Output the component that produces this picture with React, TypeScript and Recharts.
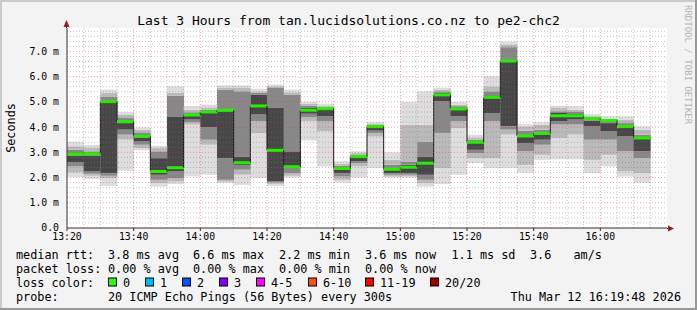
import {
  ComposedChart,
  Bar,
  XAxis,
  YAxis,
  CartesianGrid,
  ReferenceLine,
} from "recharts";

// 5 minute steps, 13:20 .. 16:15 (last slot is still empty)
const slots = [
  "13:20", "13:25", "13:30", "13:35", "13:40", "13:45", "13:50", "13:55",
  "14:00", "14:05", "14:10", "14:15", "14:20", "14:25", "14:30", "14:35",
  "14:40", "14:45", "14:50", "14:55", "15:00", "15:05", "15:10", "15:15",
  "15:20", "15:25", "15:30", "15:35", "15:40", "15:45", "15:50", "15:55",
  "16:00", "16:05", "16:10", "16:15",
];
const timeTicks = ["13:20", "13:40", "14:00", "14:20", "14:40", "15:00", "15:20", "15:40", "16:00"];
const yTicks = [0, 1, 2, 3, 4, 5, 6, 7];

// median rtt in ms
const medianRtt = [
  2.93, 2.95, 5.01, 4.22, 3.63, 2.24, 2.39, 4.48, 4.6, 4.67, 2.59, 4.84,
  3.08, 2.43, 4.67, 4.73, 2.36, 2.83, 4.02, 2.33, 2.41, 2.57, 5.28, 4.72,
  3.4, 5.18, 6.62, 3.65, 3.75, 4.45, 4.45, 4.34, 4.26, 4.02, 3.57,
];
// smoke: outer (min/max) and three inner bands, ms
const smokeMin = [
  2.02, 1.94, 1.67, 2.27, 3.08, 1.64, 1.74, 2.04, 2.11, 1.78, 1.71, 1.98,
  1.67, 2.0, 3.47, 2.44, 1.8, 2.0, 2.37, 2.0, 2.0, 1.64, 1.74, 2.11,
  2.57, 2.37, 2.37, 2.2, 2.7, 2.72, 2.72, 2.18, 2.44, 2.04, 1.78,
];
const smokeLo2 = [
  2.2, 2.07, 1.98, 3.5, 3.17, 1.78, 1.84, 4.1, 3.3, 1.84, 2.11, 3.76,
  1.75, 2.07, 4.23, 3.83, 1.91, 2.44, 3.63, 2.04, 2.04, 1.78, 2.37, 3.96,
  2.77, 2.77, 3.7, 2.5, 2.9, 3.57, 3.7, 2.7, 2.9, 2.24, 2.18,
];
const smokeLo3 = [
  2.44, 2.15, 2.07, 3.7, 3.3, 1.91, 1.97, 4.19, 3.5, 1.91, 2.31, 4.23,
  1.8, 2.17, 4.4, 4.23, 2.04, 2.57, 3.77, 2.11, 2.11, 1.91, 3.77, 4.23,
  2.97, 4.23, 3.9, 3.04, 3.3, 4.1, 4.1, 3.5, 3.5, 3.04, 2.77,
];
const smokeLo4 = [
  2.6, 2.24, 2.17, 3.9, 3.43, 2.11, 2.24, 4.3, 4.0, 2.77, 2.5, 4.5,
  1.84, 2.44, 4.53, 4.43, 2.17, 2.64, 3.86, 2.17, 2.17, 2.11, 5.03, 4.43,
  3.1, 4.56, 4.03, 3.37, 3.5, 4.23, 4.3, 4.03, 3.83, 3.63, 3.04,
];
const smokeHi4 = [
  2.86, 2.86, 4.96, 4.16, 3.61, 2.77, 4.4, 4.45, 4.56, 4.63, 2.84, 5.29,
  4.76, 3.04, 4.76, 4.69, 2.37, 2.8, 3.99, 2.4, 2.51, 2.84, 5.36, 4.69,
  3.37, 5.16, 6.59, 3.63, 3.8, 4.56, 4.52, 4.26, 4.16, 4.03, 3.57,
];
const smokeHi3 = [
  3.1, 3.04, 5.2, 4.36, 3.79, 3.04, 5.25, 4.59, 4.69, 5.49, 5.42, 5.36,
  5.55, 5.29, 4.85, 4.76, 2.47, 2.88, 4.07, 2.51, 2.64, 3.43, 5.42, 4.83,
  3.5, 5.42, 7.17, 3.86, 3.9, 4.63, 4.6, 4.3, 4.2, 4.16, 3.7,
];
const smokeHi2 = [
  3.24, 3.17, 5.36, 4.5, 3.9, 3.17, 5.36, 4.69, 4.76, 5.55, 5.55, 5.42,
  5.62, 5.38, 4.93, 4.83, 2.55, 2.97, 4.12, 2.7, 4.1, 4.1, 5.49, 4.89,
  3.59, 5.62, 7.28, 4.03, 4.1, 4.76, 4.69, 4.43, 4.34, 4.3, 3.9,
];
const smokeMax = [
  3.42, 3.29, 5.49, 4.59, 3.99, 3.26, 5.62, 4.83, 4.89, 5.66, 5.66, 5.52,
  5.69, 5.49, 5.0, 4.93, 2.64, 3.04, 4.2, 3.0, 5.0, 5.42, 5.56, 5.0,
  3.7, 6.02, 7.39, 4.12, 4.2, 4.85, 4.83, 4.52, 4.43, 4.43, 4.03,
];

const lossColors = [
  { label: "0", color: "#26ff00" },
  { label: "1", color: "#00b8ff" },
  { label: "2", color: "#0059ff" },
  { label: "3", color: "#7e00ff" },
  { label: "4-5", color: "#ff00ff" },
  { label: "6-10", color: "#ff5500" },
  { label: "11-19", color: "#ff0000" },
  { label: "20/20", color: "#a10000" },
];

const toMin = (s: string) => {
  const [h, m] = s.split(":").map(Number);
  return h * 60 + m;
};
const fmtTime = (v: number) =>
  `${Math.floor(v / 60)}:${String(v % 60).padStart(2, "0")}`;

const tStart = toMin(slots[0]);
const tEnd = toMin(slots[slots.length - 1]) + 5;

const bands = [smokeMin, smokeLo2, smokeLo3, smokeLo4, smokeHi4, smokeHi3, smokeHi2, smokeMax];
const bandColors = ["#dddddd", "#bababa", "#888888", "#474747", "#888888", "#bababa", "#dddddd"];

const rows = slots.map((slot, i) => {
  const row: any = {
    slot,
    t: toMin(slot),
    median: medianRtt[i] ?? null,
    prevMedian: medianRtt[i - 1] ?? null,
    base: smokeMin[i] ?? null,
  };
  for (let k = 1; k < bands.length; k++) {
    row[`d${k}`] = i < medianRtt.length ? Math.max(0, bands[k][i] - bands[k - 1][i]) : null;
  }
  return row;
});

// grid positions
const majorX = timeTicks.map(toMin).filter((v) => v > tStart);
const minorX = slots.map(toMin).filter((v) => v > tStart && !majorX.includes(v));
const majorY = yTicks.filter((v) => v > 0);
const minorY = Array.from({ length: 40 }, (_, i) => +(i * 0.2).toFixed(1)).filter(
  (v) => v > 0 && Math.abs(v - Math.round(v)) > 0.01
);

const FONT = "'DejaVu Sans Mono', 'Liberation Mono', monospace";
const GRID = "rgba(125,125,125,0.45)";
const MGRID = "rgba(225,50,50,0.45)";

// green median band + black step connector from the previous median
const MedianMark = (p: any) => {
  const d = p.payload;
  if (p.y == null || !d || d.median == null) return null;
  const zeroY = p.y + p.height;
  const pxPerMs = p.height / d.median;
  const prevY = d.prevMedian != null ? zeroY - d.prevMedian * pxPerMs : null;
  return (
    <g>
      {prevY != null && (
        <line x1={p.x} x2={p.x} y1={prevY} y2={p.y} stroke="#141414" strokeWidth={1} />
      )}
      <rect x={p.x} y={p.y - 1.5} width={p.width} height={3} fill="#26f000" />
    </g>
  );
};

const legendX = 108;
const rowY = [254.5, 268.5, 282.5, 296.5];

export default function App() {
  return (
    <div
      style={{
        position: "absolute",
        left: 0,
        top: 0,
        width: 697,
        height: 310,
        background: "#f3f3f3",
        fontFamily: FONT,
      }}
    >
      <ComposedChart
        width={697}
        height={310}
        data={rows}
        margin={{ top: 28, right: 30, left: 7, bottom: 62 }}
        barCategoryGap={0}
        barGap={0}
      >
        <CartesianGrid fill="#ffffff" horizontal={false} vertical={false} xAxisId="t" />
        <XAxis
          xAxisId="t"
          dataKey="t"
          type="number"
          domain={[tStart, tEnd]}
          ticks={timeTicks.map(toMin)}
          tickFormatter={fmtTime}
          allowDataOverflow
          height={20}
          stroke="#3a3030"
          tickSize={3}
          tickMargin={2}
          tick={{ fontSize: 9.8, fill: "#000", fontFamily: FONT }}
        />
        <XAxis xAxisId="c" dataKey="slot" type="category" orientation="top" hide />
        <XAxis xAxisId="m" dataKey="slot" type="category" orientation="top" hide />
        <YAxis
          domain={[0, 7.93]}
          ticks={yTicks}
          allowDataOverflow
          width={60}
          stroke="#3a3030"
          tickLine={false}
          tickSize={3}
          tickMargin={5}
          tickFormatter={(v: number) => (v === 0 ? "0.0" : `${v.toFixed(1)} m`)}
          tick={{ fontSize: 9.8, fill: "#000", fontFamily: FONT }}
        />
        <Bar xAxisId="c" dataKey="base" stackId="s" fill="transparent" isAnimationActive={false} />
        {bandColors.map((c, k) => (
          <Bar
            key={k}
            xAxisId="c"
            dataKey={`d${k + 1}`}
            stackId="s"
            fill={c}
            isAnimationActive={false}
          />
        ))}
        <Bar xAxisId="m" dataKey="median" shape={MedianMark} isAnimationActive={false} />
        {minorY.map((v) => (
          <ReferenceLine key={`hy${v}`} xAxisId="t" y={v} stroke={GRID} strokeDasharray="1 2" />
        ))}
        {minorX.map((v) => (
          <ReferenceLine key={`hx${v}`} xAxisId="t" x={v} stroke={GRID} strokeDasharray="1 2" />
        ))}
        {majorY.map((v) => (
          <ReferenceLine key={`my${v}`} xAxisId="t" y={v} stroke={MGRID} strokeDasharray="1 2" />
        ))}
        {majorX.map((v) => (
          <ReferenceLine key={`mx${v}`} xAxisId="t" x={v} stroke={MGRID} strokeDasharray="1 2" />
        ))}
      </ComposedChart>

      <svg
        width={697}
        height={310}
        style={{ position: "absolute", left: 0, top: 0, pointerEvents: "none" }}
        fontFamily={FONT}
      >
        <line x1={0} y1={1} x2={697} y2={1} stroke="#cbcbcb" strokeWidth={2} />
        <line x1={1} y1={0} x2={1} y2={310} stroke="#cbcbcb" strokeWidth={2} />
        <line x1={0} y1={309} x2={697} y2={309} stroke="#999" strokeWidth={2} />
        <line x1={696} y1={0} x2={696} y2={310} stroke="#999" strokeWidth={2} />

        <text x={348.5} y={20} fontSize={13} textAnchor="middle" dominantBaseline="central">
          Last 3 Hours from tan.lucidsolutions.co.nz to pe2-chc2
        </text>
        <text
          x={10.5}
          y={128}
          fontSize={11.8}
          textAnchor="middle"
          dominantBaseline="central"
          transform="rotate(-90 10.5 128)"
        >
          Seconds
        </text>
        <text
          x={688}
          y={5}
          fontSize={9}
          fill="#b4b4b4"
          dominantBaseline="central"
          transform="rotate(90 688 5)"
        >
          RRDTOOL / TOBI OETIKER
        </text>

        {/* axis arrows */}
        <line x1={66.5} y1={28} x2={66.5} y2={24} stroke="#3a3030" />
        <polygon points="63.5,27 69.5,27 66.5,20" fill="#9b1b1b" />
        <line x1={667} y1={228.5} x2={670} y2={228.5} stroke="#3a3030" />
        <polygon points="668,225.5 668,231.5 674,228.5" fill="#9b1b1b" />

        <g fontSize={11.8} dominantBaseline="central">
          <text x={16} y={rowY[0]}>median rtt:</text>
          <text x={legendX} y={rowY[0]}>3.8 ms avg</text>
          <text x={193} y={rowY[0]}>6.6 ms max</text>
          <text x={279} y={rowY[0]}>2.2 ms min</text>
          <text x={365} y={rowY[0]}>3.6 ms now</text>
          <text x={451.5} y={rowY[0]}>1.1 ms sd</text>
          <text x={530} y={rowY[0]}>3.6</text>
          <text x={573.5} y={rowY[0]}>am/s</text>

          <text x={16} y={rowY[1]}>packet loss:</text>
          <text x={legendX} y={rowY[1]}>0.00 % avg</text>
          <text x={193} y={rowY[1]}>0.00 % max</text>
          <text x={279} y={rowY[1]}>0.00 % min</text>
          <text x={365} y={rowY[1]}>0.00 % now</text>

          <text x={16} y={rowY[2]}>loss color:</text>
          {lossColors.map((lc, i) => {
            const bx = [108, 145, 182, 219, 256, 308, 365, 430][i];
            return (
              <g key={lc.label}>
                <rect x={bx + 0.5} y={rowY[2] - 4.5} width={8} height={8} fill={lc.color} stroke="#000" />
                <text x={bx + 15} y={rowY[2]}>{lc.label}</text>
              </g>
            );
          })}

          <text x={16} y={rowY[3]}>probe:</text>
          <text x={legendX} y={rowY[3]}>20 ICMP Echo Pings (56 Bytes) every 300s</text>
          <text x={681} y={rowY[3]} textAnchor="end">Thu Mar 12 16:19:48 2026</text>
        </g>
      </svg>
    </div>
  );
}
